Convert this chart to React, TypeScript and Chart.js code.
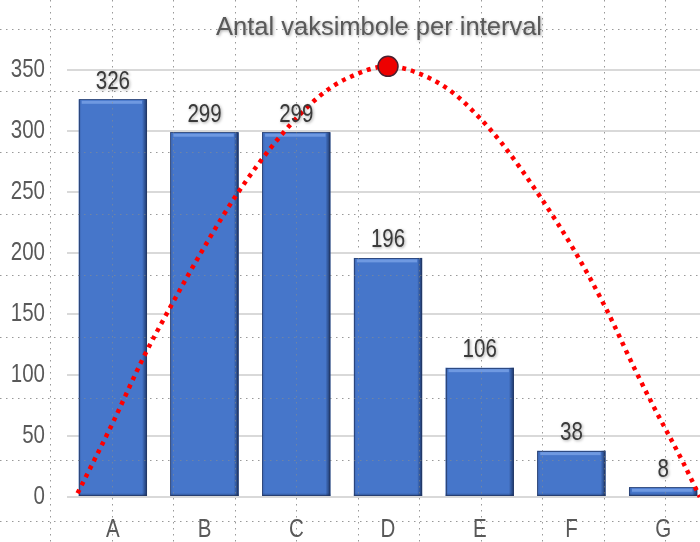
import React, { useEffect, useRef } from "react";
import { Chart, registerables } from "chart.js";

Chart.register(...registerables);

const categories = ["A", "B", "C", "D", "E", "F", "G"];
const counts = [326, 299, 299, 196, 106, 38, 8];
const curveIndex = [-0.385, 0, 0.331, 0.622, 1.022, 1.342, 1.84, 2.26, 2.55, 3.0, 3.31, 3.68, 3.97, 4.24, 4.66, 5.04, 5.38, 5.69, 5.89, 6.22, 6.4];
const curveValues = [3, 61, 114, 155, 208, 247, 297, 329, 343, 353, 348, 333, 313, 290, 246, 201, 154, 105, 75, 28, 0];
const peakValue = 353;
const yTicks = [0, 50, 100, 150, 200, 250, 300, 350];
const titleText = "Antal vaksimbole per interval";

const FONT = "'Liberation Sans', Arial, sans-serif";
const NARROW = 0.82;
let narrowOn = true;

const narrowText = {
  id: "narrowText",
  beforeInit(chart: any) {
    const ctx = chart.ctx;
    const orig = CanvasRenderingContext2D.prototype.fillText;
    ctx.fillText = function (text: string, x: number, y: number, maxWidth?: number) {
      if (!narrowOn) {
        return maxWidth === undefined ? orig.call(this, text, x, y) : orig.call(this, text, x, y, maxWidth);
      }
      this.save();
      this.translate(x, y);
      this.scale(NARROW, 1);
      orig.call(this, text, 0, 0);
      this.restore();
    };
  },
};

function drawDots(chart: any, color: string) {
  const ctx = chart.ctx;
  ctx.save();
  ctx.strokeStyle = color;
  ctx.lineWidth = 1;
  ctx.setLineDash([1.5, 4.5]);
  const step = 61.5;
  for (let x = 50; x < chart.width; x += step) {
    ctx.beginPath();
    ctx.moveTo(Math.round(x) + 0.5, 0);
    ctx.lineTo(Math.round(x) + 0.5, chart.height);
    ctx.stroke();
  }
  for (let y = 29; y < chart.height; y += step) {
    ctx.beginPath();
    ctx.moveTo(0, Math.round(y) + 0.5);
    ctx.lineTo(chart.width, Math.round(y) + 0.5);
    ctx.stroke();
  }
  ctx.restore();
}

const backgroundGrid = {
  id: "backgroundGrid",
  beforeDraw(chart: any) {
    const ctx = chart.ctx;
    ctx.save();
    ctx.fillStyle = "#ffffff";
    ctx.fillRect(0, 0, chart.width, chart.height);
    ctx.restore();
    drawDots(chart, "rgba(70,70,70,0.55)");
  },
};

const barBevel = {
  id: "barBevel",
  afterDatasetDraw(chart: any, args: any) {
    if (chart.data.datasets[args.index].type !== "bar") return;
    const ctx = chart.ctx;
    const meta = chart.getDatasetMeta(args.index);
    ctx.save();
    meta.data.forEach((bar: any) => {
      const w = bar.width;
      const left = bar.x - w / 2;
      const right = bar.x + w / 2;
      const top = bar.y;
      const bottom = bar.base;
      const h = bottom - top;
      const g = ctx.createLinearGradient(right - 5, 0, right, 0);
      g.addColorStop(0, "rgba(10,25,60,0)");
      g.addColorStop(1, "rgba(10,25,60,0.7)");
      ctx.fillStyle = g;
      ctx.fillRect(right - 5, top, 5, h);
      const gl = ctx.createLinearGradient(left, 0, left + 3, 0);
      gl.addColorStop(0, "rgba(20,40,90,0.25)");
      gl.addColorStop(1, "rgba(20,40,90,0)");
      ctx.fillStyle = gl;
      ctx.fillRect(left, top, 3, h);
      const gb = ctx.createLinearGradient(0, bottom - 3, 0, bottom);
      gb.addColorStop(0, "rgba(10,25,60,0)");
      gb.addColorStop(1, "rgba(10,25,60,0.45)");
      ctx.fillStyle = gb;
      ctx.fillRect(left, bottom - 3, w, 3);
      const hh = Math.min(3, h / 2);
      ctx.fillStyle = "rgba(125,165,232,0.75)";
      ctx.fillRect(left + 3, top + 1.5, w - 8, hh);
      ctx.strokeStyle = "rgba(35,55,100,0.7)";
      ctx.lineWidth = 1;
      ctx.strokeRect(Math.round(left) + 0.5, Math.round(top) + 0.5, Math.round(w) - 1, Math.round(h) - 1);
    });
    ctx.restore();
    // faint background pattern showing through the bars
    ctx.save();
    ctx.beginPath();
    meta.data.forEach((bar: any) => {
      ctx.rect(bar.x - bar.width / 2, bar.y, bar.width, bar.base - bar.y);
    });
    ctx.clip();
    drawDots(chart, "rgba(160,150,120,0.45)");
    ctx.restore();
  },
};

const labelsAndTitle = {
  id: "labelsAndTitle",
  afterDraw(chart: any) {
    const ctx = chart.ctx;
    ctx.save();
    ctx.shadowColor = "rgba(0,0,0,0.35)";
    ctx.shadowBlur = 3;
    ctx.shadowOffsetX = 1;
    ctx.shadowOffsetY = 1;
    ctx.font = `25px ${FONT}`;
    ctx.textAlign = "center";
    ctx.textBaseline = "alphabetic";
    ctx.fillStyle = "#3a3a3a";
    narrowOn = true;
    const meta = chart.getDatasetMeta(1);
    meta.data.forEach((bar: any, i: number) => {
      ctx.fillText(String(counts[i]), bar.x, bar.y - 10.5);
    });
    narrowOn = false;
    ctx.fillStyle = "#595959";
    ctx.font = `25.5px ${FONT}`;
    ctx.fillText(titleText, 379, 35);
    narrowOn = true;
    ctx.restore();
  },
};

export default function App() {
  const ref = useRef<HTMLCanvasElement>(null);
  useEffect(() => {
    if (!ref.current) return;
    const chart = new Chart(ref.current, {
      data: {
        labels: categories,
        datasets: [
          {
            type: "line",
            label: "curve",
            data: curveIndex.map((x, i) => ({ x, y: curveValues[i] })),
            xAxisID: "xl",
            yAxisID: "y",
            borderColor: "#ff0000",
            borderWidth: 4.5,
            borderDash: [4, 5],
            borderCapStyle: "butt",
            cubicInterpolationMode: "monotone",
            fill: false,
            clip: false,
            order: 0,
            pointRadius: curveValues.map((v) => (v === peakValue ? 10 : 0)),
            pointBackgroundColor: "#ee0000",
            pointBorderColor: "#4a2030",
            pointBorderWidth: 1.5,
          } as any,
          {
            type: "bar",
            label: "count",
            data: counts,
            xAxisID: "x",
            yAxisID: "y",
            backgroundColor: "#4676CA",
            borderWidth: 0,
            grouped: false,
            categoryPercentage: 1,
            barPercentage: 0.745,
            order: 1,
          } as any,
        ],
      },
      options: {
        responsive: false,
        animation: false,
        devicePixelRatio: 1,
        layout: { padding: { left: 0, right: 3, top: 70, bottom: 0 } },
        plugins: {
          legend: { display: false },
          tooltip: { enabled: false },
          title: { display: false },
        },
        scales: {
          x: {
            type: "category",
            offset: true,
            grid: { display: false, drawTicks: false },
            border: { display: false },
            ticks: { color: "#595959", font: { family: FONT, size: 25 }, padding: 18 },
            afterFit(scale: any) {
              scale.height = 45;
            },
          },
          xl: {
            type: "linear",
            display: false,
            min: -0.5,
            max: 6.5,
          },
          y: {
            min: 0,
            max: 350,
            afterBuildTicks(scale: any) {
              scale.ticks = yTicks.map((v) => ({ value: v }));
            },
            afterFit(scale: any) {
              scale.width = 67;
            },
            grid: { color: "#D9D9D9", lineWidth: 2, drawTicks: false },
            border: { display: false },
            ticks: { color: "#595959", font: { family: FONT, size: 25 }, padding: 22 },
          },
        },
      },
      plugins: [narrowText, backgroundGrid, barBevel, labelsAndTitle],
    });
    return () => chart.destroy();
  }, []);
  return (
    <div style={{ position: "fixed", left: 0, top: 0, width: 712, height: 542, overflow: "hidden" }}>
      <canvas ref={ref} width={712} height={542} style={{ display: "block" }} />
    </div>
  );
}
